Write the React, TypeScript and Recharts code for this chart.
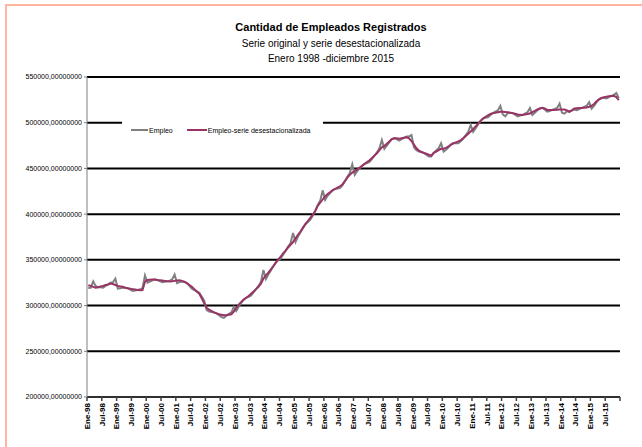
import { LineChart, Line, XAxis, YAxis, CartesianGrid } from "recharts";

// monthly values, thousands of employees, Jan 1998 .. Dec 2015
const empleo = [
  319.3, 319.5, 326.5, 321.5, 320.0, 320.0, 319.5, 321.5, 323.0, 325.0, 325.5, 329.5,
  318.5, 319.0, 319.5, 319.5, 319.0, 317.5, 316.0, 316.5, 317.0, 317.8, 319.0, 333.0,
  325.0, 326.3, 327.5, 328.5, 328.0, 326.8, 325.5, 326.0, 326.5, 327.2, 328.5, 334.0,
  324.5, 325.8, 326.0, 326.0, 324.5, 321.5, 318.5, 317.0, 315.5, 314.0, 310.0, 305.5,
  295.0, 293.5, 293.0, 292.5, 291.5, 289.5, 287.5, 286.5, 289.0, 291.0, 292.5, 298.5,
  294.0, 299.0, 303.0, 306.5, 308.5, 309.5, 311.0, 314.5, 318.0, 321.5, 326.0, 339.0,
  329.0, 334.0, 338.5, 343.0, 347.0, 349.5, 351.5, 356.0, 360.0, 364.5, 368.5, 379.5,
  369.5, 375.5, 380.0, 385.0, 389.0, 391.5, 394.0, 398.5, 403.5, 410.0, 414.5, 426.0,
  415.5, 420.0, 423.0, 426.0, 427.5, 428.0, 428.5, 431.5, 436.0, 441.0, 445.0, 454.5,
  443.0, 447.0, 450.0, 453.0, 455.0, 456.0, 457.0, 460.5, 464.0, 467.5, 472.0, 481.0,
  471.5, 475.0, 478.5, 482.0, 483.0, 482.0, 480.5, 482.0, 483.5, 485.0, 485.0, 486.5,
  473.0, 470.0, 468.5, 468.0, 467.0, 465.0, 463.0, 463.0, 467.0, 469.5, 472.0, 477.5,
  468.5, 470.5, 473.0, 476.0, 477.5, 477.5, 477.5, 480.0, 483.0, 486.5, 490.0, 497.5,
  490.0, 494.0, 498.0, 502.0, 504.5, 505.5, 506.0, 508.5, 510.5, 512.0, 513.5, 518.5,
  509.0, 507.0, 510.5, 511.0, 510.5, 508.8, 507.0, 507.8, 508.5, 510.0, 511.5, 516.0,
  508.5, 511.0, 513.5, 515.5, 516.3, 514.5, 512.0, 512.8, 514.0, 515.0, 516.2, 521.0,
  511.0, 510.0, 512.5, 512.0, 513.5, 514.5, 513.8, 515.0, 516.2, 517.4, 518.6, 522.5,
  515.5, 518.5, 522.5, 525.5, 527.0, 527.0, 526.5, 528.0, 529.3, 530.5, 532.5, 527.0,
];

const empleoDesest = [
  322.3, 321.5, 320.5, 319.5, 320.0, 321.0, 321.5, 322.5, 323.0, 324.0, 323.5, 322.5,
  321.5, 321.0, 320.5, 319.5, 319.0, 318.5, 318.0, 317.5, 317.0, 316.8, 317.0, 326.0,
  328.0, 328.3, 328.5, 328.5, 328.0, 327.8, 327.5, 327.0, 326.5, 326.2, 326.5, 327.0,
  327.5, 327.8, 327.0, 326.0, 324.5, 322.5, 320.5, 318.0, 315.5, 313.0, 308.0, 302.5,
  297.5, 295.5, 294.0, 292.5, 291.5, 290.5, 290.0, 289.5, 289.5, 290.0, 290.5, 293.5,
  297.5, 301.0, 304.0, 306.5, 308.5, 310.5, 313.0, 315.5, 318.0, 320.5, 324.0, 329.5,
  333.0, 336.0, 339.5, 343.0, 347.0, 350.5, 353.5, 357.0, 360.0, 363.5, 366.5, 369.5,
  373.5, 377.5, 381.0, 385.0, 389.0, 392.5, 396.0, 399.5, 403.5, 409.0, 412.5, 416.0,
  419.5, 422.0, 424.0, 426.0, 427.5, 429.0, 430.5, 432.5, 436.0, 440.0, 443.0, 445.5,
  447.0, 449.0, 451.0, 453.0, 455.0, 457.0, 459.0, 461.5, 464.0, 466.5, 470.0, 473.0,
  474.5, 477.0, 479.5, 482.0, 483.0, 483.0, 482.5, 483.0, 483.5, 484.0, 483.0, 480.0,
  476.0, 472.0, 469.5, 468.0, 467.0, 466.0, 465.0, 464.0, 467.0, 468.5, 470.0, 471.5,
  471.5, 472.5, 474.0, 476.0, 477.5, 478.5, 479.5, 481.0, 483.0, 485.5, 488.0, 490.5,
  493.0, 496.0, 499.0, 502.0, 504.5, 506.5, 508.0, 509.5, 510.5, 511.0, 511.5, 512.0,
  512.0, 511.8, 511.5, 511.0, 510.5, 509.8, 509.0, 508.8, 508.5, 509.0, 509.5, 510.0,
  511.5, 513.0, 514.5, 515.5, 516.3, 515.5, 514.0, 513.8, 514.0, 514.0, 514.2, 514.5,
  514.5, 514.5, 513.5, 512.0, 513.5, 515.5, 515.8, 516.0, 516.2, 516.4, 516.6, 517.5,
  518.5, 520.5, 523.5, 525.5, 527.0, 528.0, 528.5, 529.0, 529.3, 529.5, 528.0, 524.8,
];

// one label every six months
const tickLabels = [
  "Ene-98", "Jul-98", "Ene-99", "Jul-99", "Ene-00", "Jul-00", "Ene-01", "Jul-01",
  "Ene-02", "Jul-02", "Ene-03", "Jul-03", "Ene-04", "Jul-04", "Ene-05", "Jul-05",
  "Ene-06", "Jul-06", "Ene-07", "Jul-07", "Ene-08", "Jul-08", "Ene-09", "Jul-09",
  "Ene-10", "Jul-10", "Ene-11", "Jul-11", "Ene-12", "Jul-12", "Ene-13", "Jul-13",
  "Ene-14", "Jul-14", "Ene-15", "Jul-15",
];

const yTicks = [200000, 250000, 300000, 350000, 400000, 450000, 500000, 550000];

const FONT = "'Liberation Sans', Arial, sans-serif";

const data = empleo.map((v, i) => ({
  x: i + 0.5,
  empleo: v * 1000,
  desest: empleoDesest[i] * 1000,
}));

const xTicks = Array.from({ length: tickLabels.length + 1 }, (_, i) => i * 6);

function MonthTick(props: any) {
  const { x, y, payload } = props;
  const label = tickLabels[Math.round(payload.value / 6)] ?? "";
  return (
    <text
      x={x}
      y={y}
      transform={`rotate(-90, ${x}, ${y})`}
      textAnchor="end"
      dy="0.35em"
      fontSize={8}
      fontWeight="bold"
      fontFamily={FONT}
      fill="#000"
    >
      {label}
    </text>
  );
}

function LegendBox() {
  const item = (color: string, text: string, width: number) => (
    <span style={{ display: "inline-flex", alignItems: "center", marginRight: 14 }}>
      <span style={{ display: "inline-block", width, height: 2, background: color }} />
      <span style={{ marginLeft: 1 }}>{text}</span>
    </span>
  );
  return (
    <div
      style={{
        position: "absolute",
        left: 122,
        top: 119,
        background: "#fff",
        width: 201,
        height: 22,
        display: "flex",
        alignItems: "center",
        paddingLeft: 9,
        boxSizing: "border-box",
        fontFamily: FONT,
        fontSize: 7,
        color: "#000",
        whiteSpace: "nowrap",
      }}
    >
      {item("#808080", "Empleo", 17)}
      {item("#993366", "Empleo-serie desestacionalizada", 20)}
    </div>
  );
}

export default function App() {
  return (
    <div
      style={{
        position: "absolute",
        left: 0,
        top: 0,
        width: 642,
        height: 447,
        background: "#fff",
        overflow: "hidden",
      }}
    >
      <div
        style={{
          position: "absolute",
          left: 5,
          top: 4,
          right: -10,
          bottom: -10,
          borderLeft: "2px solid #ffb59f",
          borderTop: "2px solid #ffb59f",
        }}
      />
      <div
        style={{
          position: "absolute",
          left: 0,
          width: 662,
          top: 19,
          textAlign: "center",
          fontFamily: FONT,
          color: "#000",
        }}
      >
        <div style={{ fontSize: 11, fontWeight: "bold", lineHeight: "17px" }}>
          Cantidad de Empleados Registrados
        </div>
        <div style={{ fontSize: 10, lineHeight: "15px" }}>
          Serie original y serie desestacionalizada
        </div>
        <div style={{ fontSize: 10, lineHeight: "15px" }}>Enero 1998 -diciembre 2015</div>
      </div>
      <LineChart
        width={642}
        height={447}
        data={data}
        margin={{ top: 77, right: 22, bottom: 0, left: 0 }}
        style={{ position: "absolute", left: 0, top: 0 }}
      >
        <CartesianGrid vertical={false} stroke="#000" strokeWidth={2} />
        <XAxis
          type="number"
          dataKey="x"
          domain={[0, 216]}
          ticks={xTicks}
          interval={0}
          height={50}
          tickSize={4}
          tickMargin={2}
          tick={<MonthTick />}
          stroke="#404040"
          strokeWidth={1.5}
          allowDataOverflow
        />
        <YAxis
          type="number"
          domain={[200000, 550000]}
          ticks={yTicks}
          interval={0}
          width={87}
          tickSize={3}
          tickMargin={2}
          stroke="#808080"
          tick={{ fontSize: 7, fill: "#000", fontFamily: FONT }}
          tickFormatter={(v: number) => `${v},00000000`}
        />
        <Line
          type="linear"
          dataKey="empleo"
          name="Empleo"
          stroke="#808080"
          strokeWidth={2}
          dot={false}
          isAnimationActive={false}
        />
        <Line
          type="linear"
          dataKey="desest"
          name="Empleo-serie desestacionalizada"
          stroke="#993366"
          strokeWidth={2}
          dot={false}
          isAnimationActive={false}
        />
      </LineChart>
      <LegendBox />
    </div>
  );
}
